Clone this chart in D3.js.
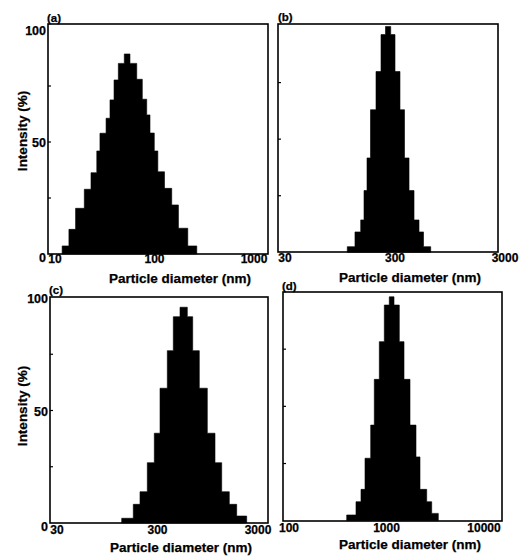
<!DOCTYPE html>
<html>
<head>
<meta charset="utf-8">
<script src="https://cdn.jsdelivr.net/npm/d3@7"></script>
<style>
  html, body { margin: 0; padding: 0; background: #fff; }
  svg { display: block; }
  text { font-family: "Liberation Sans", Arial, Helvetica, sans-serif; font-weight: bold; fill: #000; stroke: #000; stroke-width: 0.25px; }
</style>
</head>
<body>
<svg id="chart" width="521" height="558"></svg>
<script>
// ---------- DATA ----------
const panelNames = ["(a)", "(b)", "(c)", "(d)"];

// bin edges (nm) and intensity (%) for each histogram
const edgesA = [11.8, 13.8, 16.1, 19.7, 23.0, 26.3, 28.3, 32.6, 35.7, 39.2, 43.3, 49.7, 56.7, 66.3, 75.4, 83.5, 90.1, 99.5, 108, 126, 149, 174, 216, 266];
const intensityA = [3.6, 11.0, 20.4, 28.9, 36.3, 46.0, 53.9, 60.6, 68.8, 77.7, 85.1, 89.3, 85.1, 78.0, 69.1, 62.1, 54.0, 46.0, 36.7, 29.3, 21.9, 11.5, 3.6];

const edgesB = [110.5, 129.8, 146.3, 156.8, 167, 179.6, 201.6, 223.8, 245.9, 274.2, 300, 333, 366, 402.4, 446.7, 495.9, 544.8, 633.3];
const intensityB = [2.5, 9.0, 14.3, 27.3, 41.7, 63.0, 79.9, 96.2, 99.8, 96.2, 79.9, 63.0, 41.7, 27.3, 14.3, 9.0, 2.5];

const edgesC = [132.1, 172.3, 200.9, 237.5, 278.8, 317.8, 375.6, 430.9, 502.5, 593.9, 671.9, 781.7, 939, 1120, 1306, 1554, 1841, 2315];
const intensityC = [2.1, 8.3, 13.9, 26.8, 39.9, 59.9, 76.6, 91.7, 95.9, 91.7, 76.6, 59.9, 39.9, 26.8, 13.9, 8.3, 3.1];

const edgesD = [390.6, 486.6, 547.5, 601.9, 688.5, 749.5, 843.6, 949.3, 1068, 1194, 1353, 1512, 1742, 2007, 2206, 2584, 2908, 3399];
const intensityD = [2.5, 8.3, 13.7, 27.3, 41.8, 61.8, 78.3, 94.3, 97.9, 94.3, 78.3, 61.8, 41.8, 27.9, 13.7, 8.3, 3.2];

// axis tick labels
const xTicksA = [10, 100, 1000];
const xTicksB = [30, 300, 3000];
const xTicksC = [30, 300, 3000];
const xTicksD = [100, 1000, 10000];
const yTickLabels = [0, 50, 100];
const yMinorTicks = [25, 50, 75];

const xTitle = "Particle diameter (nm)";
const yTitle = "Intensity (%)";

// ---------- LAYOUT ----------
const layout = [
  { frame: [48, 24, 268, 254], xr: [55, 254], yr: [254, 30], yLabels: true, yTitleY: 131, xLabY: 263, xTitleX: 180, xTitleY: 283, nameXY: [47, 22] },
  { frame: [278, 24, 498, 252], xr: [285, 505], yr: [252.3, 26], yLabels: false, xLabY: 262, xTitleX: 410, xTitleY: 282, nameXY: [278, 21] },
  { frame: [50, 297, 268, 523], xr: [57, 258], yr: [523, 298], yLabels: true, yTitleY: 406, xLabY: 534, xTitleX: 181, xTitleY: 552, nameXY: [49, 294] },
  { frame: [283, 292, 502, 521], xr: [289, 484], yr: [520.7, 292], yLabels: false, xLabY: 532, xTitleX: 410, xTitleY: 549, nameXY: [282, 290] }
];
const series = [
  { edges: edgesA, values: intensityA, ticks: xTicksA },
  { edges: edgesB, values: intensityB, ticks: xTicksB },
  { edges: edgesC, values: intensityC, ticks: xTicksC },
  { edges: edgesD, values: intensityD, ticks: xTicksD }
];

const svg = d3.select("#chart");

series.forEach((s, i) => {
  const L = layout[i];
  const [fx0, fy0, fx1, fy1] = L.frame;
  const x = d3.scaleLog().domain([s.ticks[0], s.ticks[2]]).range(L.xr);
  const y = d3.scaleLinear().domain([0, 100]).range(L.yr);
  const g = svg.append("g");

  // histogram outline (step shape)
  const pts = [[s.edges[0], 0]];
  s.values.forEach((v, k) => {
    pts.push([s.edges[k], v]);
    pts.push([s.edges[k + 1], v]);
  });
  pts.push([s.edges[s.edges.length - 1], 0]);
  const line = d3.line().x(d => x(d[0])).y(d => y(d[1]));
  g.append("path")
    .attr("d", line(pts) + "Z")
    .attr("fill", "#000")
    .attr("stroke", "#000")
    .attr("stroke-width", 0.6);

  // frame
  g.append("rect")
    .attr("x", fx0).attr("y", fy0)
    .attr("width", fx1 - fx0).attr("height", fy1 - fy0)
    .attr("fill", "none").attr("stroke", "#000").attr("stroke-width", 1.6);

  // inward minor ticks on left
  g.selectAll(".ytick").data(yMinorTicks).enter().append("line")
    .attr("x1", fx0).attr("x2", fx0 + 3)
    .attr("y1", d => y(d)).attr("y2", d => y(d))
    .attr("stroke", "#000").attr("stroke-width", 1.2);

  // x tick labels
  g.selectAll(".xl").data(s.ticks).enter().append("text")
    .attr("x", d => x(d)).attr("y", L.xLabY)
    .attr("text-anchor", "middle")
    .attr("font-size", 12)
    .text(d => d);

  // x title
  g.append("text")
    .attr("x", L.xTitleX).attr("y", L.xTitleY)
    .attr("text-anchor", "middle").attr("font-size", 13.5)
    .text(xTitle);

  // panel name
  g.append("text")
    .attr("x", L.nameXY[0]).attr("y", L.nameXY[1])
    .attr("font-size", 11.5)
    .text(panelNames[i]);

  if (L.yLabels) {
    g.selectAll(".yl").data(yTickLabels).enter().append("text")
      .attr("x", fx0 - 2).attr("y", d => y(d) + (d === 0 ? 8 : 5))
      .attr("text-anchor", "end").attr("font-size", 12.5)
      .text(d => d);
    g.append("text")
      .attr("transform", `translate(27,${L.yTitleY}) rotate(-90)`)
      .attr("text-anchor", "middle").attr("font-size", 13.5)
      .text(yTitle);
  }
});
</script>
</body>
</html>
